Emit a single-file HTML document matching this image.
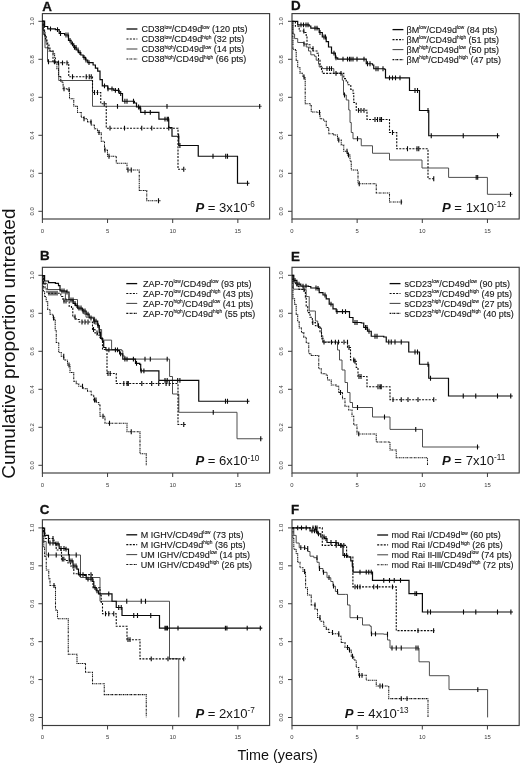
<!DOCTYPE html>
<html><head><meta charset="utf-8"><title>Figure</title>
<style>
html,body{margin:0;padding:0;background:#fff;}
body{width:520px;height:763px;overflow:hidden;font-family:"Liberation Sans",sans-serif;}
svg{display:block;font-family:"Liberation Sans",sans-serif;will-change:transform;opacity:0.999;filter:blur(0.4px);}
.tk{font-size:5.9px;fill:#3a3a3a;}
.pl{font-size:13.4px;font-weight:bold;fill:#111;stroke:#111;stroke-width:0.3px;}
.lg{font-size:9px;fill:#161616;stroke:#161616;stroke-width:0.12px;}
.sp{font-size:4.8px;}
.pv{font-size:13.1px;fill:#141414;}
.pb{font-weight:bold;font-style:italic;}
.ps{font-size:8.2px;}
.yl{font-size:18.92px;fill:#111;}
.xl{font-size:14.4px;fill:#111;}
</style></head><body>
<svg width="520" height="763" viewBox="0 0 520 763">
<rect width="520" height="763" fill="#fff"/>
<g>
<rect x="42.40" y="13.60" width="227.20" height="205.40" fill="none" stroke="#3c3c3c" stroke-width="1.15"/>
<path d="M42.40 219.00v4M107.55 219.00v4M172.70 219.00v4M237.85 219.00v4M42.40 211.30h-4M42.40 173.30h-4M42.40 135.30h-4M42.40 97.30h-4M42.40 59.30h-4M42.40 21.30h-4" stroke="#3c3c3c" stroke-width="1" fill="none"/>
<text class="tk" x="42.40" y="232.70" text-anchor="middle">0</text>
<text class="tk" x="107.55" y="232.70" text-anchor="middle">5</text>
<text class="tk" x="172.70" y="232.70" text-anchor="middle">10</text>
<text class="tk" x="237.85" y="232.70" text-anchor="middle">15</text>
<text class="tk" transform="translate(33.80 211.30) rotate(-90)" text-anchor="middle">0.0</text>
<text class="tk" transform="translate(33.80 173.30) rotate(-90)" text-anchor="middle">0.2</text>
<text class="tk" transform="translate(33.80 135.30) rotate(-90)" text-anchor="middle">0.4</text>
<text class="tk" transform="translate(33.80 97.30) rotate(-90)" text-anchor="middle">0.6</text>
<text class="tk" transform="translate(33.80 59.30) rotate(-90)" text-anchor="middle">0.8</text>
<text class="tk" transform="translate(33.80 21.30) rotate(-90)" text-anchor="middle">1.0</text>
<text class="pl" x="42.20" y="10.60">A</text>
<path d="M42.30 21.20H43.30V34.60H45.00V47.80H47.50V61.75H58.75V80.50H92.50V106.30H261.70V106.30" fill="none" stroke="#454545" stroke-width="0.95"/>
<path d="M48.50 59.35v4.8M54.60 59.35v4.8M117.50 103.90v4.8M167.00 103.90v4.8M259.70 103.90v4.8" fill="none" stroke="#080808" stroke-width="1.1"/>
<path d="M42.30 21.20H43.10V30.40H44.60V36.50H46.20V42.70H47.70V48.10H50.00V51.20H53.10V53.50H54.60V57.30H55.40V62.70H56.90V68.80H58.50V76.50H60.80V81.90H63.10V88.80H66.90V89.60H69.50V98.75H73.75V106.25H77.50V112.50H81.25V117.50H83.75V118.75H87.50V121.88H91.25V125.00H94.38V128.75H97.50V132.50H101.25V141.25H104.50V150.00H107.50V156.25H116.25V163.25H127.00V170.00H139.25V190.50H146.75V200.75H160.50V200.75" fill="none" stroke="#101010" stroke-width="1.05" stroke-dasharray="1.7 0.7 0.7 0.7"/>
<path d="M64.00 86.40v4.8M69.00 87.20v4.8M84.00 116.35v4.8M91.00 119.47v4.8M99.00 130.10v4.8M105.00 147.60v4.8M109.00 153.85v4.8M128.00 167.60v4.8M131.25 167.60v4.8M158.50 198.35v4.8" fill="none" stroke="#080808" stroke-width="1.1"/>
<path d="M42.30 21.20H43.20V27.00H44.20V33.00H45.50V39.00H47.00V45.00H49.00V51.00H53.00V62.80H68.75V76.75H92.50V92.50H100.75V103.75H106.25V128.20H178.00V169.25H185.75V169.25" fill="none" stroke="#0c0c0c" stroke-width="1.10" stroke-dasharray="2.0 1.3"/>
<path d="M58.50 60.40v4.8M62.50 60.40v4.8M67.00 60.40v4.8M72.50 74.35v4.8M86.25 74.35v4.8M89.25 74.35v4.8M91.25 74.35v4.8M94.50 90.10v4.8M97.50 90.10v4.8M104.25 101.35v4.8M110.00 125.80v4.8M124.50 125.80v4.8M141.75 125.80v4.8M151.75 125.80v4.8M168.75 125.80v4.8M183.75 166.85v4.8" fill="none" stroke="#080808" stroke-width="1.1"/>
<path d="M42.30 21.20H44.60V26.50H47.70V28.80H55.40V29.60H59.20V33.50H64.60V35.00H68.50V40.40H71.15V43.85H73.80V47.30H76.15V50.00H78.50V52.70H80.80V55.00H83.10V57.30H85.40V60.00H87.70V62.70H93.10V65.00H95.40V68.10H97.70V71.20H100.00V79.60H102.30V85.80H107.70V88.80H113.80V90.40H119.20V93.50H122.50V101.25H134.40V103.00H136.50V107.00H139.70V108.20H140.70V112.30H158.90V119.20H168.75V127.50H172.00V136.25H178.75V145.50H198.25V156.25H237.50V183.25H249.50V183.25" fill="none" stroke="#080808" stroke-width="1.20"/>
<path d="M50.50 26.40v4.8M57.50 27.20v4.8M60.50 31.10v4.8M66.00 32.60v4.8M68.00 32.60v4.8M70.00 38.00v4.8M72.50 41.45v4.8M74.50 44.90v4.8M76.00 44.90v4.8M78.00 47.60v4.8M80.00 50.30v4.8M84.00 54.90v4.8M86.00 57.60v4.8M89.00 60.30v4.8M104.50 83.40v4.8M108.00 86.40v4.8M112.00 86.40v4.8M115.40 88.00v4.8M118.50 88.00v4.8M120.70 91.10v4.8M124.90 98.85v4.8M127.00 98.85v4.8M133.50 98.85v4.8M138.60 104.60v4.8M140.20 105.80v4.8M145.00 109.90v4.8M150.30 109.90v4.8M165.00 116.80v4.8M167.20 116.80v4.8M168.40 116.80v4.8M178.60 133.85v4.8M179.90 143.10v4.8M213.00 153.85v4.8M225.75 153.85v4.8M227.50 153.85v4.8M247.50 180.85v4.8" fill="none" stroke="#080808" stroke-width="1.1"/>
<path d="M126.50 29.00H137.40" stroke="#080808" stroke-width="1.30" fill="none"/>
<text class="lg" x="141.50" y="32.20">CD38<tspan class="sp" dy="-3.6">low</tspan><tspan dy="3.6">/CD49d</tspan><tspan class="sp" dy="-3.6">low</tspan><tspan dy="3.6"> (120 pts)</tspan></text>
<path d="M126.50 39.00H137.40" stroke="#0c0c0c" stroke-width="1.20" stroke-dasharray="2.0 1.3" fill="none"/>
<text class="lg" x="141.50" y="42.20">CD38<tspan class="sp" dy="-3.6">low</tspan><tspan dy="3.6">/CD49d</tspan><tspan class="sp" dy="-3.6">high</tspan><tspan dy="3.6"> (32 pts)</tspan></text>
<path d="M126.50 49.00H137.40" stroke="#454545" stroke-width="1.05" fill="none"/>
<text class="lg" x="141.50" y="52.20">CD38<tspan class="sp" dy="-3.6">high</tspan><tspan dy="3.6">/CD49d</tspan><tspan class="sp" dy="-3.6">low</tspan><tspan dy="3.6"> (14 pts)</tspan></text>
<path d="M126.50 59.00H137.40" stroke="#101010" stroke-width="1.15" stroke-dasharray="1.7 0.7 0.7 0.7" fill="none"/>
<text class="lg" x="141.50" y="62.20">CD38<tspan class="sp" dy="-3.6">high</tspan><tspan dy="3.6">/CD49d</tspan><tspan class="sp" dy="-3.6">high</tspan><tspan dy="3.6"> (66 pts)</tspan></text>
<text class="pv" x="195.40" y="211.80"><tspan class="pb">P</tspan> = 3x10<tspan class="ps" dy="-4.6">-6</tspan></text>
</g>
<g>
<rect x="42.40" y="267.30" width="227.20" height="205.70" fill="none" stroke="#3c3c3c" stroke-width="1.15"/>
<path d="M42.40 473.00v4M107.55 473.00v4M172.70 473.00v4M237.85 473.00v4M42.40 465.30h-4M42.40 427.30h-4M42.40 389.30h-4M42.40 351.30h-4M42.40 313.30h-4M42.40 275.30h-4" stroke="#3c3c3c" stroke-width="1" fill="none"/>
<text class="tk" x="42.40" y="486.70" text-anchor="middle">0</text>
<text class="tk" x="107.55" y="486.70" text-anchor="middle">5</text>
<text class="tk" x="172.70" y="486.70" text-anchor="middle">10</text>
<text class="tk" x="237.85" y="486.70" text-anchor="middle">15</text>
<text class="tk" transform="translate(33.80 465.30) rotate(-90)" text-anchor="middle">0.0</text>
<text class="tk" transform="translate(33.80 427.30) rotate(-90)" text-anchor="middle">0.2</text>
<text class="tk" transform="translate(33.80 389.30) rotate(-90)" text-anchor="middle">0.4</text>
<text class="tk" transform="translate(33.80 351.30) rotate(-90)" text-anchor="middle">0.6</text>
<text class="tk" transform="translate(33.80 313.30) rotate(-90)" text-anchor="middle">0.8</text>
<text class="tk" transform="translate(33.80 275.30) rotate(-90)" text-anchor="middle">1.0</text>
<text class="pl" x="40.00" y="260.20">B</text>
<path d="M42.50 275.50H43.80V283.40H46.90V284.00H47.40V289.50H60.80V291.00H64.60V291.00H65.40V299.50H77.50V308.80H83.00V309.50H83.80V314.00H86.00V317.20H93.80V317.20H94.60V324.00H98.50V325.00H99.20V329.50H101.60V340.10H111.60V349.60H121.70V350.70H122.80V356.00H124.90V359.10H169.60V376.50H172.50V394.00H178.80V412.30H237.00V438.75H262.75V438.75" fill="none" stroke="#454545" stroke-width="0.95"/>
<path d="M145.00 356.70v4.8M150.30 356.70v4.8M167.20 356.70v4.8M213.25 409.90v4.8M260.75 436.35v4.8" fill="none" stroke="#080808" stroke-width="1.1"/>
<path d="M42.50 275.50H42.80V283.40H43.40V291.00H44.60V296.50H46.20V301.80H47.70V309.50H50.00V314.20H53.00V318.00H54.60V320.30H55.20V330.00H56.25V342.50H58.75V352.50H61.25V356.25H63.75V360.00H67.50V365.00H70.00V372.50H73.75V381.25H76.25V383.75H78.75V386.25H83.12V388.75H87.50V391.25H91.25V395.00H93.75V400.00H96.25V402.50H98.75V405.00H100.00V416.25H105.00V423.25H127.00V431.75H140.00V453.75H146.25V465.20" fill="none" stroke="#101010" stroke-width="1.05" stroke-dasharray="1.7 0.7 0.7 0.7"/>
<path d="M53.50 315.60v4.8M63.75 353.85v4.8M69.00 362.60v4.8M82.50 383.85v4.8M94.50 397.60v4.8M96.00 397.60v4.8M103.00 413.85v4.8M109.50 420.85v4.8M131.25 429.35v4.8" fill="none" stroke="#080808" stroke-width="1.1"/>
<path d="M42.50 275.50H43.50V283.00H45.00V289.00H47.00V293.20H60.80V296.50H63.00V301.00H68.50V301.80H69.20V306.50H71.50V308.00H72.80V317.00H76.00V319.50H79.20V322.00H92.50V329.50H95.00V333.00H97.50V335.25H100.00V337.50H102.50V349.50H106.50V350.00H107.00V373.50H116.25V383.50H178.00V424.50H185.75V424.50" fill="none" stroke="#0c0c0c" stroke-width="1.10" stroke-dasharray="2.0 1.3"/>
<path d="M49.00 290.80v4.8M51.00 290.80v4.8M53.00 290.80v4.8M55.00 290.80v4.8M57.00 290.80v4.8M64.00 298.60v4.8M66.00 298.60v4.8M75.00 314.60v4.8M82.00 319.60v4.8M85.00 319.60v4.8M88.00 319.60v4.8M93.50 327.10v4.8M97.00 330.60v4.8M108.00 371.10v4.8M110.20 371.10v4.8M123.80 381.10v4.8M127.00 381.10v4.8M128.30 381.10v4.8M141.80 381.10v4.8M151.70 381.10v4.8M158.70 381.10v4.8M166.10 381.10v4.8M169.30 381.10v4.8M183.75 422.10v4.8" fill="none" stroke="#080808" stroke-width="1.1"/>
<path d="M42.50 275.50H44.60V281.00H48.50V282.60H55.40V283.40H58.50V285.70H60.00V291.00H66.50V292.00H69.00V300.00H73.10V303.40H75.40V305.70H77.70V308.00H82.30V311.00H86.20V314.20H89.20V318.00H93.80V321.20H97.70V325.70H99.20V332.60H100.50V338.50H102.70V341.10H103.70V347.50H105.90V349.80H117.50V350.70H119.60V353.80H122.80V359.10H134.40V359.10H135.50V363.30H139.70V364.40H140.70V370.90H158.90V380.40H198.75V401.25H249.50V401.25" fill="none" stroke="#080808" stroke-width="1.20"/>
<path d="M62.00 288.60v4.8M64.00 288.60v4.8M67.00 289.60v4.8M71.00 297.60v4.8M73.00 297.60v4.8M75.00 301.00v4.8M77.00 303.30v4.8M79.00 305.60v4.8M81.00 305.60v4.8M83.00 308.60v4.8M85.00 308.60v4.8M88.00 311.80v4.8M91.00 315.60v4.8M94.00 318.80v4.8M96.00 318.80v4.8M98.00 323.30v4.8M100.00 330.20v4.8M108.90 347.40v4.8M115.40 347.40v4.8M117.50 347.40v4.8M120.60 351.40v4.8M124.90 356.70v4.8M127.00 356.70v4.8M133.40 356.70v4.8M136.50 360.90v4.8M141.20 368.50v4.8M143.90 368.50v4.8M165.00 378.00v4.8M167.20 378.00v4.8M177.70 378.00v4.8M179.90 378.00v4.8M225.50 398.85v4.8M227.50 398.85v4.8M247.50 398.85v4.8" fill="none" stroke="#080808" stroke-width="1.1"/>
<path d="M126.30 283.60H137.20" stroke="#080808" stroke-width="1.30" fill="none"/>
<text class="lg" x="143.00" y="286.80">ZAP-70<tspan class="sp" dy="-3.6">low</tspan><tspan dy="3.6">/CD49d</tspan><tspan class="sp" dy="-3.6">low</tspan><tspan dy="3.6"> (93 pts)</tspan></text>
<path d="M126.30 293.50H137.20" stroke="#0c0c0c" stroke-width="1.20" stroke-dasharray="2.0 1.3" fill="none"/>
<text class="lg" x="143.00" y="296.70">ZAP-70<tspan class="sp" dy="-3.6">low</tspan><tspan dy="3.6">/CD49d</tspan><tspan class="sp" dy="-3.6">high</tspan><tspan dy="3.6"> (43 pts)</tspan></text>
<path d="M126.30 303.40H137.20" stroke="#454545" stroke-width="1.05" fill="none"/>
<text class="lg" x="143.00" y="306.60">ZAP-70<tspan class="sp" dy="-3.6">high</tspan><tspan dy="3.6">/CD49d</tspan><tspan class="sp" dy="-3.6">low</tspan><tspan dy="3.6"> (41 pts)</tspan></text>
<path d="M126.30 313.30H137.20" stroke="#101010" stroke-width="1.15" stroke-dasharray="1.7 0.7 0.7 0.7" fill="none"/>
<text class="lg" x="143.00" y="316.50">ZAP-70<tspan class="sp" dy="-3.6">high</tspan><tspan dy="3.6">/CD49d</tspan><tspan class="sp" dy="-3.6">high</tspan><tspan dy="3.6"> (55 pts)</tspan></text>
<text class="pv" x="195.40" y="465.10"><tspan class="pb">P</tspan> = 6x10<tspan class="ps" dy="-4.6">-10</tspan></text>
</g>
<g>
<rect x="42.40" y="519.80" width="227.20" height="205.70" fill="none" stroke="#3c3c3c" stroke-width="1.15"/>
<path d="M42.40 725.50v4M107.55 725.50v4M172.70 725.50v4M237.85 725.50v4M42.40 717.50h-4M42.40 679.58h-4M42.40 641.66h-4M42.40 603.74h-4M42.40 565.82h-4M42.40 527.90h-4" stroke="#3c3c3c" stroke-width="1" fill="none"/>
<text class="tk" x="42.40" y="739.20" text-anchor="middle">0</text>
<text class="tk" x="107.55" y="739.20" text-anchor="middle">5</text>
<text class="tk" x="172.70" y="739.20" text-anchor="middle">10</text>
<text class="tk" x="237.85" y="739.20" text-anchor="middle">15</text>
<text class="tk" transform="translate(33.80 717.50) rotate(-90)" text-anchor="middle">0.0</text>
<text class="tk" transform="translate(33.80 679.58) rotate(-90)" text-anchor="middle">0.2</text>
<text class="tk" transform="translate(33.80 641.66) rotate(-90)" text-anchor="middle">0.4</text>
<text class="tk" transform="translate(33.80 603.74) rotate(-90)" text-anchor="middle">0.6</text>
<text class="tk" transform="translate(33.80 565.82) rotate(-90)" text-anchor="middle">0.8</text>
<text class="tk" transform="translate(33.80 527.90) rotate(-90)" text-anchor="middle">1.0</text>
<text class="pl" x="39.80" y="514.30">C</text>
<path d="M42.30 528.00H43.00V541.50H46.20V555.00H80.50V577.50H100.00V601.25H169.50V658.75H178.75V717.30" fill="none" stroke="#454545" stroke-width="0.95"/>
<path d="M48.50 552.60v4.8M56.20 552.60v4.8M76.20 552.60v4.8M126.75 598.85v4.8M141.25 598.85v4.8M145.50 598.85v4.8" fill="none" stroke="#080808" stroke-width="1.1"/>
<path d="M42.30 528.00H43.00V537.00H43.80V547.70H44.60V556.20H46.25V570.00H48.75V578.75H50.00V585.50H55.50V610.00H57.50V618.75H68.25V654.25H77.00V663.50H85.50V672.25H92.50V683.75H104.25V694.60H146.25V717.30" fill="none" stroke="#101010" stroke-width="1.05" stroke-dasharray="1.7 0.7 0.7 0.7"/>
<path d="M54.00 583.10v4.8" fill="none" stroke="#080808" stroke-width="1.1"/>
<path d="M42.30 528.00H43.50V533.00H45.00V538.50H54.00V543.00H56.20V550.00H61.50V559.20H66.00V560.50H68.00V563.00H70.50V566.00H73.00V569.00H73.80V573.80H78.50V574.60H91.50V574.60H92.30V581.50H93.00V587.70H100.00V595.40H101.25V602.50H102.50V613.75H116.25V626.25H127.00V639.70H140.00V658.90H185.75V658.90" fill="none" stroke="#0c0c0c" stroke-width="1.10" stroke-dasharray="2.0 1.3"/>
<path d="M53.00 536.10v4.8M62.30 556.80v4.8M63.80 556.80v4.8M91.00 572.20v4.8M105.50 611.35v4.8M108.75 611.35v4.8M113.75 611.35v4.8M128.00 637.30v4.8M130.00 637.30v4.8M151.25 656.50v4.8M168.00 656.50v4.8M183.75 656.50v4.8" fill="none" stroke="#080808" stroke-width="1.1"/>
<path d="M42.30 528.00H44.60V535.40H48.50V543.00H55.40V543.80H59.20V548.50H65.40V549.20H68.50V554.60H69.20V560.80H73.00V566.00H76.90V569.20H78.50V574.60H84.60V575.40H86.20V579.20H92.30V579.20H93.00V581.50H93.80V587.70H96.15V590.75H98.50V593.80H112.00V601.25H116.25V607.50H122.00V615.50H159.50V628.20H262.30V628.20" fill="none" stroke="#080808" stroke-width="1.20"/>
<path d="M50.00 540.60v4.8M53.00 540.60v4.8M56.00 541.40v4.8M58.00 541.40v4.8M61.00 546.10v4.8M64.00 546.10v4.8M66.00 546.80v4.8M70.00 558.40v4.8M72.00 558.40v4.8M74.00 563.60v4.8M76.00 563.60v4.8M80.00 572.20v4.8M83.00 572.20v4.8M88.00 576.80v4.8M91.00 576.80v4.8M95.00 585.30v4.8M97.00 588.35v4.8M108.75 591.40v4.8M118.75 605.10v4.8M121.25 605.10v4.8M133.75 613.10v4.8M137.50 613.10v4.8M150.75 613.10v4.8M165.00 625.80v4.8M166.25 625.80v4.8M167.50 625.80v4.8M178.00 625.80v4.8M225.40 625.80v4.8M226.90 625.80v4.8M247.20 625.80v4.8M260.30 625.80v4.8" fill="none" stroke="#080808" stroke-width="1.1"/>
<path d="M126.30 534.80H137.20" stroke="#080808" stroke-width="1.30" fill="none"/>
<text class="lg" x="140.80" y="538.00">M IGHV/CD49d<tspan class="sp" dy="-3.6">low</tspan><tspan dy="3.6"> (73 pts)</tspan></text>
<path d="M126.30 544.70H137.20" stroke="#0c0c0c" stroke-width="1.20" stroke-dasharray="2.0 1.3" fill="none"/>
<text class="lg" x="140.80" y="547.90">M IGHV/CD49d<tspan class="sp" dy="-3.6">high</tspan><tspan dy="3.6"> (36 pts)</tspan></text>
<path d="M126.30 554.60H137.20" stroke="#454545" stroke-width="1.05" fill="none"/>
<text class="lg" x="140.80" y="557.80">UM IGHV/CD49d<tspan class="sp" dy="-3.6">low</tspan><tspan dy="3.6"> (14 pts)</tspan></text>
<path d="M126.30 564.50H137.20" stroke="#101010" stroke-width="1.15" stroke-dasharray="1.7 0.7 0.7 0.7" fill="none"/>
<text class="lg" x="140.80" y="567.70">UM IGHV/CD49d<tspan class="sp" dy="-3.6">high</tspan><tspan dy="3.6"> (26 pts)</tspan></text>
<text class="pv" x="195.40" y="718.00"><tspan class="pb">P</tspan> = 2x10<tspan class="ps" dy="-4.6">-7</tspan></text>
</g>
<g>
<rect x="292.00" y="13.60" width="227.20" height="205.40" fill="none" stroke="#3c3c3c" stroke-width="1.15"/>
<path d="M292.00 219.00v4M357.15 219.00v4M422.30 219.00v4M487.45 219.00v4M292.00 211.30h-4M292.00 173.30h-4M292.00 135.30h-4M292.00 97.30h-4M292.00 59.30h-4M292.00 21.30h-4" stroke="#3c3c3c" stroke-width="1" fill="none"/>
<text class="tk" x="292.00" y="232.70" text-anchor="middle">0</text>
<text class="tk" x="357.15" y="232.70" text-anchor="middle">5</text>
<text class="tk" x="422.30" y="232.70" text-anchor="middle">10</text>
<text class="tk" x="487.45" y="232.70" text-anchor="middle">15</text>
<text class="tk" transform="translate(283.40 211.30) rotate(-90)" text-anchor="middle">0.0</text>
<text class="tk" transform="translate(283.40 173.30) rotate(-90)" text-anchor="middle">0.2</text>
<text class="tk" transform="translate(283.40 135.30) rotate(-90)" text-anchor="middle">0.4</text>
<text class="tk" transform="translate(283.40 97.30) rotate(-90)" text-anchor="middle">0.6</text>
<text class="tk" transform="translate(283.40 59.30) rotate(-90)" text-anchor="middle">0.8</text>
<text class="tk" transform="translate(283.40 21.30) rotate(-90)" text-anchor="middle">1.0</text>
<text class="pl" x="291.10" y="9.80">D</text>
<path d="M292.30 21.40H293.00V34.00H294.60V38.60H297.70V42.50H303.80V44.00H306.20V47.00H308.50V51.00H310.80V54.80H314.60V56.30H316.20V60.20H318.50V64.00H319.20V67.00H322.30V68.60H333.00V68.60H333.80V73.20H341.50V74.00H342.30V80.20H343.50V95.00H346.25V100.00H348.75V110.00H350.00V122.50H351.25V132.50H353.00V138.75H361.25V145.75H372.50V153.25H389.50V160.00H422.00V168.00H448.60V177.40H487.40V194.30H512.50V194.30" fill="none" stroke="#454545" stroke-width="0.95"/>
<path d="M304.00 41.60v4.8M327.00 66.20v4.8M329.50 66.20v4.8M331.50 66.20v4.8M344.50 92.60v4.8M357.50 136.35v4.8M476.20 175.00v4.8M477.70 175.00v4.8M510.50 191.90v4.8" fill="none" stroke="#080808" stroke-width="1.1"/>
<path d="M292.30 21.40H292.80V37.00H293.00V49.40H295.40V50.20H296.20V60.20H297.70V67.80H300.00V73.20H303.00V77.00H305.00V78.60H305.20V103.75H310.00V105.00H311.25V112.00H317.50V112.50H320.00V118.75H323.75V121.25H326.25V127.50H328.75V133.75H333.75V135.00H337.50V140.00H341.25V145.00H343.75V151.25H347.50V155.00H350.00V161.25H351.25V170.00H357.50V170.50H358.00V183.75H376.25V193.00H389.50V202.00H402.50V202.00" fill="none" stroke="#101010" stroke-width="1.05" stroke-dasharray="1.7 0.7 0.7 0.7"/>
<path d="M304.00 74.60v4.8M319.50 110.10v4.8M338.75 137.60v4.8M347.00 148.85v4.8M348.50 152.60v4.8M359.25 181.35v4.8M401.25 199.60v4.8" fill="none" stroke="#080808" stroke-width="1.1"/>
<path d="M292.30 21.40H295.40V26.30H299.20V31.00H303.80V32.50H306.20V37.00H307.00V44.80H310.00V48.60H313.00V51.00H317.00V53.20H318.50V60.20H320.00V66.30H321.50V71.00H322.30V73.40H342.30V73.40H343.80V78.60H346.20V81.00H347.70V84.80H350.80V89.40H353.00V93.20H353.75V102.50H356.25V110.30H367.00V119.50H389.50V132.50H396.75V148.75H428.00V178.75H435.00V178.75" fill="none" stroke="#0c0c0c" stroke-width="1.10" stroke-dasharray="2.0 1.3"/>
<path d="M303.80 28.60v4.8M313.00 46.20v4.8M336.00 71.00v4.8M341.00 71.00v4.8M358.50 107.90v4.8M361.00 107.90v4.8M364.00 107.90v4.8M375.00 117.10v4.8M377.50 117.10v4.8M380.00 117.10v4.8M381.50 117.10v4.8M392.50 130.10v4.8M407.50 146.35v4.8M417.00 146.35v4.8M418.75 146.35v4.8M433.75 176.35v4.8" fill="none" stroke="#080808" stroke-width="1.1"/>
<path d="M292.30 21.40H296.20V21.40H297.70V24.80H309.20V26.00H310.80V28.20H317.70V28.60H319.20V32.50H322.30V37.00H326.20V41.70H328.50V47.00H331.50V53.20H335.40V57.80H337.70V59.20H365.50V59.20H366.25V63.75H372.50V65.00H373.75V68.75H384.50V69.25H385.50V77.80H409.50V90.50H419.50V110.50H428.75V135.75H499.50V135.75" fill="none" stroke="#080808" stroke-width="1.20"/>
<path d="M301.00 22.40v4.8M303.50 22.40v4.8M306.00 22.40v4.8M308.00 22.40v4.8M315.00 25.80v4.8M317.00 25.80v4.8M320.00 30.10v4.8M324.00 34.60v4.8M325.50 34.60v4.8M334.00 50.80v4.8M336.00 55.40v4.8M343.00 56.80v4.8M347.50 56.80v4.8M349.50 56.80v4.8M351.00 56.80v4.8M353.00 56.80v4.8M357.00 56.80v4.8M364.00 56.80v4.8M367.50 61.35v4.8M370.00 61.35v4.8M376.00 66.35v4.8M378.00 66.35v4.8M383.00 66.35v4.8M389.50 75.40v4.8M392.50 75.40v4.8M395.50 75.40v4.8M400.00 75.40v4.8M415.00 88.10v4.8M417.50 88.10v4.8M428.00 108.10v4.8M431.25 133.35v4.8M463.25 133.35v4.8M497.50 133.35v4.8" fill="none" stroke="#080808" stroke-width="1.1"/>
<path d="M392.50 29.60H403.40" stroke="#080808" stroke-width="1.30" fill="none"/>
<text class="lg" x="406.60" y="32.80">βM<tspan class="sp" dy="-3.6">low</tspan><tspan dy="3.6">/CD49d</tspan><tspan class="sp" dy="-3.6">low</tspan><tspan dy="3.6"> (84 pts)</tspan></text>
<path d="M392.50 39.60H403.40" stroke="#0c0c0c" stroke-width="1.20" stroke-dasharray="2.0 1.3" fill="none"/>
<text class="lg" x="406.60" y="42.80">βM<tspan class="sp" dy="-3.6">low</tspan><tspan dy="3.6">/CD49d</tspan><tspan class="sp" dy="-3.6">high</tspan><tspan dy="3.6"> (51 pts)</tspan></text>
<path d="M392.50 49.60H403.40" stroke="#454545" stroke-width="1.05" fill="none"/>
<text class="lg" x="406.60" y="52.80">βM<tspan class="sp" dy="-3.6">high</tspan><tspan dy="3.6">/CD49d</tspan><tspan class="sp" dy="-3.6">low</tspan><tspan dy="3.6"> (50 pts)</tspan></text>
<path d="M392.50 59.60H403.40" stroke="#101010" stroke-width="1.15" stroke-dasharray="1.7 0.7 0.7 0.7" fill="none"/>
<text class="lg" x="406.60" y="62.80">βM<tspan class="sp" dy="-3.6">high</tspan><tspan dy="3.6">/CD49d</tspan><tspan class="sp" dy="-3.6">high</tspan><tspan dy="3.6"> (47 pts)</tspan></text>
<text class="pv" x="442.00" y="211.80"><tspan class="pb">P</tspan> = 1x10<tspan class="ps" dy="-4.6">-12</tspan></text>
</g>
<g>
<rect x="292.00" y="267.30" width="227.20" height="205.70" fill="none" stroke="#3c3c3c" stroke-width="1.15"/>
<path d="M292.00 473.00v4M357.15 473.00v4M422.30 473.00v4M487.45 473.00v4M292.00 465.30h-4M292.00 427.30h-4M292.00 389.30h-4M292.00 351.30h-4M292.00 313.30h-4M292.00 275.30h-4" stroke="#3c3c3c" stroke-width="1" fill="none"/>
<text class="tk" x="292.00" y="486.70" text-anchor="middle">0</text>
<text class="tk" x="357.15" y="486.70" text-anchor="middle">5</text>
<text class="tk" x="422.30" y="486.70" text-anchor="middle">10</text>
<text class="tk" x="487.45" y="486.70" text-anchor="middle">15</text>
<text class="tk" transform="translate(283.40 465.30) rotate(-90)" text-anchor="middle">0.0</text>
<text class="tk" transform="translate(283.40 427.30) rotate(-90)" text-anchor="middle">0.2</text>
<text class="tk" transform="translate(283.40 389.30) rotate(-90)" text-anchor="middle">0.4</text>
<text class="tk" transform="translate(283.40 351.30) rotate(-90)" text-anchor="middle">0.6</text>
<text class="tk" transform="translate(283.40 313.30) rotate(-90)" text-anchor="middle">0.8</text>
<text class="tk" transform="translate(283.40 275.30) rotate(-90)" text-anchor="middle">1.0</text>
<text class="pl" x="290.90" y="261.00">E</text>
<path d="M292.30 275.40H293.00V283.40H293.40V289.20H305.40V289.50H306.20V296.50H308.50V296.50H309.20V311.00H314.60V311.00H315.40V321.00H317.70V326.50H320.00V328.00H321.50V335.70H322.80V342.00H336.25V342.00H337.50V350.00H339.50V360.00H342.00V370.00H345.00V382.50H347.50V392.50H350.00V402.50H352.50V407.50H372.50V417.00H390.00V429.40H422.50V447.00H479.50V447.00" fill="none" stroke="#454545" stroke-width="0.95"/>
<path d="M357.50 405.10v4.8M384.50 414.60v4.8M415.75 427.00v4.8M477.50 444.60v4.8" fill="none" stroke="#080808" stroke-width="1.1"/>
<path d="M292.30 275.40H292.80V288.00H293.00V298.80H294.60V304.20H296.20V314.20H297.70V321.80H299.20V328.00H301.50V332.60H303.80V337.20H306.25V343.00H308.75V353.75H311.25V355.50H318.25V355.50H318.75V368.75H321.25V373.75H326.25V375.00H327.50V380.00H331.25V385.00H336.25V386.25H338.75V392.50H342.50V398.75H345.00V406.25H348.75V410.00H352.00V416.25H353.75V425.00H357.00V433.90H376.25V442.00H390.00V450.00H396.25V457.70H427.50V465.30" fill="none" stroke="#101010" stroke-width="1.05" stroke-dasharray="1.7 0.7 0.7 0.7"/>
<path d="M340.50 390.10v4.8M358.75 431.50v4.8" fill="none" stroke="#080808" stroke-width="1.1"/>
<path d="M292.30 275.40H293.00V281.80H295.40V284.20H297.00V286.50H299.00V289.50H304.60V290.80H305.40V297.20H306.20V306.50H307.70V312.60H310.00V317.20H312.30V322.60H315.40V325.70H318.50V327.20H320.00V332.60H321.50V338.80H323.00V342.20H346.25V342.20H347.50V347.50H350.50V360.00H353.75V361.25H356.25V367.50H358.00V376.50H367.00V386.75H390.00V399.70H436.50V399.70" fill="none" stroke="#0c0c0c" stroke-width="1.10" stroke-dasharray="2.0 1.3"/>
<path d="M304.00 287.10v4.8M312.80 320.20v4.8M318.50 323.30v4.8M324.00 339.80v4.8M331.50 339.80v4.8M335.40 339.80v4.8M338.50 339.80v4.8M344.00 339.80v4.8M347.50 339.80v4.8M349.00 345.10v4.8M353.75 357.60v4.8M355.00 358.85v4.8M359.00 374.10v4.8M361.00 374.10v4.8M378.00 384.35v4.8M380.00 384.35v4.8M381.25 384.35v4.8M393.00 397.30v4.8M401.25 397.30v4.8M408.00 397.30v4.8M418.00 397.30v4.8M433.75 397.30v4.8" fill="none" stroke="#080808" stroke-width="1.1"/>
<path d="M292.30 275.40H293.80V280.30H296.90V284.20H300.80V286.20H308.50V286.50H310.80V288.00H317.00V288.30H319.20V292.60H323.00V295.00H326.20V298.80H329.20V304.20H333.00V308.80H336.20V311.60H347.50V311.60H349.50V317.50H353.00V322.50H361.25V323.00H363.75V327.50H367.50V331.25H371.25V336.25H383.75V337.00H386.25V342.00H408.75V352.00H419.50V364.25H428.75V378.25H448.50V396.00H512.75V396.00" fill="none" stroke="#080808" stroke-width="1.20"/>
<path d="M295.00 277.90v4.8M297.00 281.80v4.8M299.00 281.80v4.8M303.00 283.80v4.8M306.00 283.80v4.8M316.00 285.60v4.8M318.00 285.90v4.8M325.00 292.60v4.8M331.00 301.80v4.8M337.00 309.20v4.8M342.50 309.20v4.8M345.50 309.20v4.8M355.00 320.10v4.8M357.00 320.10v4.8M365.50 325.10v4.8M367.00 325.10v4.8M369.00 328.85v4.8M375.00 333.85v4.8M377.00 333.85v4.8M388.75 339.60v4.8M391.25 339.60v4.8M395.00 339.60v4.8M401.25 339.60v4.8M415.00 349.60v4.8M417.50 349.60v4.8M428.00 361.85v4.8M430.50 375.85v4.8M463.25 393.60v4.8M475.75 393.60v4.8M497.50 393.60v4.8M510.75 393.60v4.8" fill="none" stroke="#080808" stroke-width="1.1"/>
<path d="M389.60 283.60H400.50" stroke="#080808" stroke-width="1.30" fill="none"/>
<text class="lg" x="404.60" y="286.80">sCD23<tspan class="sp" dy="-3.6">low</tspan><tspan dy="3.6">/CD49d</tspan><tspan class="sp" dy="-3.6">low</tspan><tspan dy="3.6"> (90 pts)</tspan></text>
<path d="M389.60 293.50H400.50" stroke="#0c0c0c" stroke-width="1.20" stroke-dasharray="2.0 1.3" fill="none"/>
<text class="lg" x="404.60" y="296.70">sCD23<tspan class="sp" dy="-3.6">low</tspan><tspan dy="3.6">/CD49d</tspan><tspan class="sp" dy="-3.6">high</tspan><tspan dy="3.6"> (49 pts)</tspan></text>
<path d="M389.60 303.40H400.50" stroke="#454545" stroke-width="1.05" fill="none"/>
<text class="lg" x="404.60" y="306.60">sCD23<tspan class="sp" dy="-3.6">high</tspan><tspan dy="3.6">/CD49d</tspan><tspan class="sp" dy="-3.6">low</tspan><tspan dy="3.6"> (27 pts)</tspan></text>
<path d="M389.60 313.30H400.50" stroke="#101010" stroke-width="1.15" stroke-dasharray="1.7 0.7 0.7 0.7" fill="none"/>
<text class="lg" x="404.60" y="316.50">sCD23<tspan class="sp" dy="-3.6">high</tspan><tspan dy="3.6">/CD49d</tspan><tspan class="sp" dy="-3.6">high</tspan><tspan dy="3.6"> (40 pts)</tspan></text>
<text class="pv" x="442.00" y="464.50"><tspan class="pb">P</tspan> = 7x10<tspan class="ps" dy="-4.6">-11</tspan></text>
</g>
<g>
<rect x="292.00" y="519.80" width="227.20" height="205.70" fill="none" stroke="#3c3c3c" stroke-width="1.15"/>
<path d="M292.00 725.50v4M357.15 725.50v4M422.30 725.50v4M487.45 725.50v4M292.00 717.50h-4M292.00 679.58h-4M292.00 641.66h-4M292.00 603.74h-4M292.00 565.82h-4M292.00 527.90h-4" stroke="#3c3c3c" stroke-width="1" fill="none"/>
<text class="tk" x="292.00" y="739.20" text-anchor="middle">0</text>
<text class="tk" x="357.15" y="739.20" text-anchor="middle">5</text>
<text class="tk" x="422.30" y="739.20" text-anchor="middle">10</text>
<text class="tk" x="487.45" y="739.20" text-anchor="middle">15</text>
<text class="tk" transform="translate(283.40 717.50) rotate(-90)" text-anchor="middle">0.0</text>
<text class="tk" transform="translate(283.40 679.58) rotate(-90)" text-anchor="middle">0.2</text>
<text class="tk" transform="translate(283.40 641.66) rotate(-90)" text-anchor="middle">0.4</text>
<text class="tk" transform="translate(283.40 603.74) rotate(-90)" text-anchor="middle">0.6</text>
<text class="tk" transform="translate(283.40 565.82) rotate(-90)" text-anchor="middle">0.8</text>
<text class="tk" transform="translate(283.40 527.90) rotate(-90)" text-anchor="middle">1.0</text>
<text class="pl" x="291.10" y="513.50">F</text>
<path d="M292.30 527.90H293.80V535.40H296.20V543.00H299.20V547.70H305.40V548.50H307.70V551.50H310.00V556.20H313.80V557.70H317.00V562.30H319.20V568.50H323.00V572.30H327.00V577.70H330.80V581.50H333.00V586.20H335.40V591.50H337.70V594.40H345.50V594.40H347.50V605.00H350.00V617.70H361.25V617.70H362.50V625.00H370.00V626.25H371.25V633.90H383.75V634.25H387.50V640.00H390.00V648.00H419.00V661.80H429.40V675.70H449.00V689.60H487.60V717.40" fill="none" stroke="#454545" stroke-width="0.95"/>
<path d="M300.80 545.30v4.8M304.60 545.30v4.8M307.70 546.10v4.8M317.00 555.30v4.8M319.50 566.10v4.8M323.50 569.90v4.8M329.00 575.30v4.8M333.50 583.80v4.8M337.50 589.10v4.8M357.50 615.30v4.8M371.50 631.50v4.8M375.50 631.50v4.8M387.50 631.85v4.8M392.00 645.60v4.8M396.25 645.60v4.8M401.25 645.60v4.8M416.00 645.60v4.8M418.00 645.60v4.8M477.80 687.20v4.8" fill="none" stroke="#080808" stroke-width="1.1"/>
<path d="M292.30 527.90H293.00V538.50H293.80V549.20H296.20V553.80H297.70V562.30H300.00V567.70H303.00V571.50H305.40V575.40H305.60V587.70H307.50V595.00H311.25V605.00H315.00V609.25H317.50V617.50H320.00V621.25H323.75V626.25H326.25V629.38H328.75V632.50H332.50V633.75H338.75V636.25H341.25V642.50H345.00V647.50H348.75V650.00H351.25V656.25H353.75V660.00H356.25V667.50H358.75V675.30H366.25V680.30H376.25V686.00H388.75V698.60H428.00V717.40" fill="none" stroke="#101010" stroke-width="1.05" stroke-dasharray="1.7 0.7 0.7 0.7"/>
<path d="M304.60 569.10v4.8M315.00 602.60v4.8M320.00 615.10v4.8M332.50 630.10v4.8M338.75 631.35v4.8M347.50 645.10v4.8M349.50 647.60v4.8M352.50 653.85v4.8M359.50 672.90v4.8M362.00 672.90v4.8M380.00 683.60v4.8M382.50 683.60v4.8M401.25 696.20v4.8M407.00 696.20v4.8" fill="none" stroke="#080808" stroke-width="1.1"/>
<path d="M292.30 527.90H321.50V527.90H322.30V545.40H346.20V545.40H346.60V557.00H351.50V557.00H352.90V586.90H396.25V630.60H434.50V630.60" fill="none" stroke="#0c0c0c" stroke-width="1.10" stroke-dasharray="2.0 1.3"/>
<path d="M313.00 525.50v4.8M315.40 525.50v4.8M317.00 525.50v4.8M336.20 543.00v4.8M340.80 543.00v4.8M343.80 543.00v4.8M355.00 584.50v4.8M357.50 584.50v4.8M360.00 584.50v4.8M373.75 584.50v4.8M377.50 584.50v4.8M392.50 584.50v4.8M418.00 628.20v4.8M433.60 628.20v4.8" fill="none" stroke="#080808" stroke-width="1.1"/>
<path d="M292.30 527.90H309.20V527.90H310.00V530.80H314.60V531.00H317.70V533.80H320.80V537.00H324.60V538.50H327.00V542.50H336.20V542.80H338.50V545.40H342.30V546.20H343.00V555.40H347.70V557.00H350.80V560.80H352.30V566.20H353.00V572.20H372.50V580.30H409.00V593.60H422.40V612.00H512.90V612.00" fill="none" stroke="#080808" stroke-width="1.20"/>
<path d="M297.70 525.50v4.8M301.50 525.50v4.8M306.20 525.50v4.8M312.00 528.40v4.8M314.50 528.40v4.8M316.50 528.60v4.8M318.50 531.40v4.8M324.00 534.60v4.8M326.00 536.10v4.8M331.00 540.10v4.8M336.00 540.10v4.8M341.00 543.00v4.8M344.50 553.00v4.8M346.50 553.00v4.8M360.00 569.80v4.8M366.25 569.80v4.8M368.75 569.80v4.8M371.25 569.80v4.8M383.75 577.90v4.8M389.50 577.90v4.8M394.25 577.90v4.8M400.50 577.90v4.8M415.00 591.20v4.8M416.60 591.20v4.8M427.70 609.60v4.8M430.50 609.60v4.8M463.50 609.60v4.8M475.80 609.60v4.8M497.50 609.60v4.8M510.90 609.60v4.8" fill="none" stroke="#080808" stroke-width="1.1"/>
<path d="M377.20 535.00H388.10" stroke="#080808" stroke-width="1.30" fill="none"/>
<text class="lg" x="391.60" y="538.20">mod Rai I/CD49d<tspan class="sp" dy="-3.6">low</tspan><tspan dy="3.6"> (60 pts)</tspan></text>
<path d="M377.20 544.90H388.10" stroke="#0c0c0c" stroke-width="1.20" stroke-dasharray="2.0 1.3" fill="none"/>
<text class="lg" x="391.60" y="548.10">mod Rai I/CD49d<tspan class="sp" dy="-3.6">high</tspan><tspan dy="3.6"> (26 pts)</tspan></text>
<path d="M377.20 554.80H388.10" stroke="#454545" stroke-width="1.05" fill="none"/>
<text class="lg" x="391.60" y="558.00">mod Rai <tspan letter-spacing='-0.36'>II-III</tspan>/CD49d<tspan class="sp" dy="-3.6">low</tspan><tspan dy="3.6"> (74 pts)</tspan></text>
<path d="M377.20 564.70H388.10" stroke="#101010" stroke-width="1.15" stroke-dasharray="1.7 0.7 0.7 0.7" fill="none"/>
<text class="lg" x="391.60" y="567.90">mod Rai <tspan letter-spacing='-0.36'>II-III</tspan>/CD49d<tspan class="sp" dy="-3.6">high</tspan><tspan dy="3.6"> (72 pts)</tspan></text>
<text class="pv" x="344.70" y="718.00"><tspan class="pb">P</tspan> = 4x10<tspan class="ps" dy="-4.6">-13</tspan></text>
</g>
<text class="yl" transform="translate(14.7 478.7) rotate(-90)">Cumulative proportion untreated</text>
<text class="xl" x="237.6" y="759.5">Time (years)</text>
</svg>
</body></html>
